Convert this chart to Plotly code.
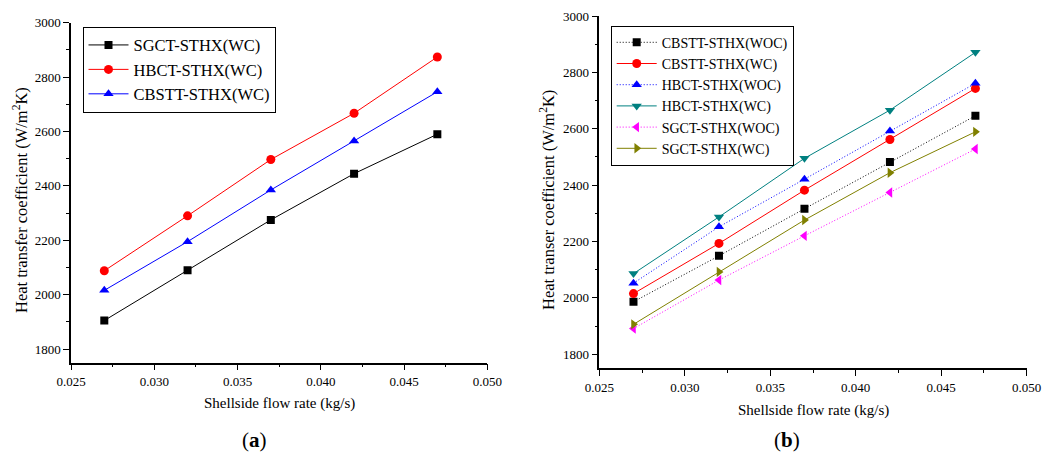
import plotly.graph_objects as go

flow_rate = [0.027, 0.032, 0.037, 0.042, 0.047]

# Panel (a)
a_sgct_wc = [1905, 2090, 2275, 2445, 2590]
a_hbct_wc = [2088, 2290, 2497, 2667, 2874]
a_cbstt_wc = [2016, 2195, 2385, 2565, 2746]

# Panel (b)
b_cbstt_woc = [1986, 2149, 2316, 2482, 2646]
b_cbstt_wc = [2015, 2193, 2382, 2562, 2743]
b_hbct_woc = [2052, 2252, 2421, 2592, 2761]
b_hbct_wc = [2086, 2287, 2495, 2666, 2871]
b_sgct_woc = [1891, 2063, 2220, 2374, 2528]
b_sgct_wc = [1906, 2092, 2276, 2444, 2589]

x_ticks = [0.025, 0.030, 0.035, 0.040, 0.045, 0.050]
x_ticklabels = ["0.025", "0.030", "0.035", "0.040", "0.045", "0.050"]
y_ticks = [1800, 2000, 2200, 2400, 2600, 2800, 3000]

FONT = "Liberation Serif, Times New Roman, serif"
W, H = 1048, 455

fig = go.Figure()

def add(x, y, name, color, symbol, dash, xa, ya, legend, msize=8):
    fig.add_trace(go.Scatter(
        x=x, y=y, name=name, mode="lines+markers",
        line=dict(color=color, width=1, dash=dash),
        marker=dict(symbol=symbol, size=msize, color=color),
        xaxis=xa, yaxis=ya, legend=legend))

DOT = "1px,2px"
add(flow_rate, a_sgct_wc, "SGCT-STHX(WC)", "#000000", "square", "solid", "x", "y", "legend")
add(flow_rate, a_hbct_wc, "HBCT-STHX(WC)", "#FF0000", "circle", "solid", "x", "y", "legend", 9)
add(flow_rate, a_cbstt_wc, "CBSTT-STHX(WC)", "#0000FF", "triangle-up", "solid", "x", "y", "legend", 9)

add(flow_rate, b_cbstt_woc, "CBSTT-STHX(WOC)", "#000000", "square", DOT, "x2", "y2", "legend2")
add(flow_rate, b_cbstt_wc, "CBSTT-STHX(WC)", "#FF0000", "circle", "solid", "x2", "y2", "legend2", 9)
add(flow_rate, b_hbct_woc, "HBCT-STHX(WOC)", "#0000FF", "triangle-up", DOT, "x2", "y2", "legend2", 9)
add(flow_rate, b_hbct_wc, "HBCT-STHX(WC)", "#008080", "triangle-down", "solid", "x2", "y2", "legend2", 9)
add(flow_rate, b_sgct_woc, "SGCT-STHX(WOC)", "#FF00FF", "triangle-left", DOT, "x2", "y2", "legend2", 9)
add(flow_rate, b_sgct_wc, "SGCT-STHX(WC)", "#808000", "triangle-right", "solid", "x2", "y2", "legend2", 9)

def px_x(p):
    return p / W

def px_y(p):
    return 1 - p / H

xaxis_common = dict(
    range=[0.025, 0.050], tickvals=x_ticks, ticktext=x_ticklabels,
    showline=True, linecolor="#000000", linewidth=1.5, mirror=False,
    ticks="outside", ticklen=6, tickcolor="#000000", tickwidth=1,
    minor=dict(ticks="outside", ticklen=3, dtick=0.0025, tickcolor="#000000", showgrid=False),
    showgrid=False, zeroline=False, automargin=False,
    tickfont=dict(family=FONT, size=13, color="#000000"),
)
yaxis_common = dict(
    range=[1750, 3000], tickvals=y_ticks,
    showline=True, linecolor="#000000", linewidth=1.5, mirror=False,
    ticks="outside", ticklen=6, tickcolor="#000000", tickwidth=1,
    minor=dict(ticks="outside", ticklen=3, dtick=100, tickcolor="#000000", showgrid=False),
    showgrid=False, zeroline=False, automargin=False,
    tickfont=dict(family=FONT, size=13, color="#000000"),
)

fig.update_layout(
    width=W, height=H,
    margin=dict(l=0, r=0, t=0, b=0),
    paper_bgcolor="#FFFFFF", plot_bgcolor="#FFFFFF",
    font=dict(family=FONT, color="#000000"),
    xaxis=dict(domain=[px_x(71), px_x(487.3)], anchor="y", **xaxis_common),
    yaxis=dict(domain=[px_y(362.7), px_y(22.7)], anchor="x", **yaxis_common),
    xaxis2=dict(domain=[px_x(599.3), px_x(1026.7)], anchor="y2", **xaxis_common),
    yaxis2=dict(domain=[px_y(368.3), px_y(16)], anchor="x2", **yaxis_common),
    legend=dict(
        x=px_x(82.5), y=px_y(26.7), xanchor="left", yanchor="top",
        bgcolor="#FFFFFF", bordercolor="#000000", borderwidth=1,
        font=dict(family=FONT, size=16.5, color="#000000"),
        tracegroupgap=0, itemwidth=40,
    ),
    legend2=dict(
        x=px_x(610.7), y=px_y(25.7), xanchor="left", yanchor="top",
        bgcolor="#FFFFFF", bordercolor="#000000", borderwidth=1,
        font=dict(family=FONT, size=14, color="#000000"),
        tracegroupgap=0, itemwidth=40,
    ),
    showlegend=True,
)

annotations = [
    dict(text="Shellside flow rate (kg/s)", x=px_x(279), y=px_y(403), xref="paper", yref="paper",
         showarrow=False, font=dict(family=FONT, size=15), xanchor="center", yanchor="middle"),
    dict(text="Shellside flow rate (kg/s)", x=px_x(813), y=px_y(410), xref="paper", yref="paper",
         showarrow=False, font=dict(family=FONT, size=15), xanchor="center", yanchor="middle"),
    dict(text="Heat transfer coefficient (W/m<sup>2</sup>K)", x=px_x(20), y=px_y(200), xref="paper", yref="paper",
         showarrow=False, textangle=-90, font=dict(family=FONT, size=16.5), xanchor="center", yanchor="middle"),
    dict(text="Heat transer coefficient (W/m<sup>2</sup>K)", x=px_x(547), y=px_y(200), xref="paper", yref="paper",
         showarrow=False, textangle=-90, font=dict(family=FONT, size=16.5), xanchor="center", yanchor="middle"),
    dict(text="(<b>a</b>)", x=px_x(254), y=px_y(440), xref="paper", yref="paper",
         showarrow=False, font=dict(family=FONT, size=21), xanchor="center", yanchor="middle"),
    dict(text="(<b>b</b>)", x=px_x(787), y=px_y(440), xref="paper", yref="paper",
         showarrow=False, font=dict(family=FONT, size=21), xanchor="center", yanchor="middle"),
]
fig.update_layout(annotations=annotations)

fig.write_html("out.html", config={"displayModeBar": False},
               post_script="document.body.style.margin='0';document.body.style.padding='0';")
